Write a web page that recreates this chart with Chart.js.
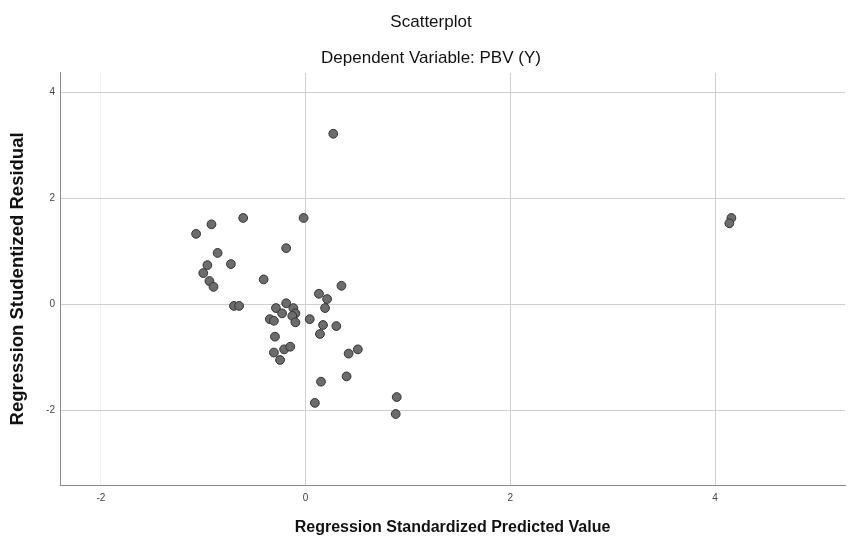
<!DOCTYPE html>
<html>
<head>
<meta charset="utf-8">
<script src="https://cdn.jsdelivr.net/npm/chart.js@4.4.1/dist/chart.umd.min.js"></script>
<style>
  html, body { margin: 0; padding: 0; background: #ffffff; }
  #wrap { width: 852px; height: 537px; }
</style>
</head>
<body>
<div id="wrap"><canvas id="c" width="852" height="537"></canvas></div>
<script>
// Regression Standardized Predicted Value (x) and Studentized Residual (y)
const predicted = [
  -1.07, -0.92, -0.61, -0.02, -0.19, -0.86, -0.73, -0.96, -1.00, -0.94,
  -0.90, -0.41, 0.35, 0.13, 0.21, 0.19, -0.70, -0.65, -0.19, -0.29,
  -0.23, -0.12, -0.10, -0.13, -0.10, -0.35, -0.31, 0.04, 0.17, 0.30,
  0.14, -0.30, -0.21, -0.15, -0.31, -0.25, 0.42, 0.51, 0.40, 0.15,
  0.09, 0.89, 0.88, 0.27, 4.16, 4.14
];
const residual = [
  1.33, 1.51, 1.63, 1.63, 1.06, 0.97, 0.76, 0.74, 0.59, 0.44,
  0.33, 0.47, 0.35, 0.20, 0.10, -0.07, -0.03, -0.03, 0.02, -0.07,
  -0.17, -0.07, -0.17, -0.22, -0.34, -0.28, -0.31, -0.28, -0.39, -0.41,
  -0.56, -0.61, -0.85, -0.80, -0.91, -1.05, -0.93, -0.85, -1.36, -1.46,
  -1.86, -1.75, -2.07, 3.22, 1.63, 1.53
];
const xTicks = [-2, 0, 2, 4];
const yTicks = [-2, 0, 2, 4];
const xRange = [-2.40, 5.27];
const yRange = [-3.41, 4.37];

const points = predicted.map((x, i) => ({ x: x, y: residual[i] }));

const FONT = "'Liberation Sans', Arial, sans-serif";

new Chart(document.getElementById('c'), {
  type: 'scatter',
  data: {
    datasets: [{
      data: points,
      backgroundColor: '#6c6c6c',
      borderColor: '#333333',
      borderWidth: 1,
      pointRadius: 4.4,
      pointHoverRadius: 4.4
    }]
  },
  options: {
    responsive: false,
    animation: false,
    devicePixelRatio: 1,
    layout: { padding: { left: 17, right: 7, top: 0, bottom: 0 } },
    plugins: {
      legend: { display: false },
      tooltip: { enabled: false },
      title: {
        display: true,
        text: 'Scatterplot',
        color: '#111111',
        font: { family: FONT, size: 17, weight: 'normal' },
        padding: { top: 12, bottom: 16 }
      },
      subtitle: {
        display: true,
        text: 'Dependent Variable: PBV (Y)',
        color: '#111111',
        font: { family: FONT, size: 17, weight: 'normal' },
        padding: { top: 0, bottom: 4 }
      }
    },
    scales: {
      x: {
        type: 'linear',
        min: xRange[0],
        max: xRange[1],
        afterBuildTicks: (s) => { s.ticks = xTicks.map(v => ({ value: v })); },
        afterFit: (s) => { s.height = 52; },
        ticks: {
          color: '#444444',
          font: { family: FONT, size: 10 },
          padding: 7
        },
        grid: {
          color: (ctx) => ctx.tick && ctx.tick.value === -2 ? '#f0f0f0' : '#cfcfcf',
          lineWidth: 1,
          drawTicks: false
        },
        border: { color: '#8a8a8a', width: 1 },
        title: {
          display: true,
          text: 'Regression Standardized Predicted Value',
          color: '#111111',
          font: { family: FONT, size: 16, weight: 'bold' },
          padding: { top: 14, bottom: 0 }
        }
      },
      y: {
        type: 'linear',
        min: yRange[0],
        max: yRange[1],
        afterBuildTicks: (s) => { s.ticks = yTicks.map(v => ({ value: v })); },
        afterFit: (s) => { s.width = 43; },
        ticks: {
          color: '#444444',
          font: { family: FONT, size: 10 },
          padding: 5
        },
        grid: {
          color: '#cfcfcf',
          lineWidth: 1,
          drawTicks: false
        },
        border: { color: '#8a8a8a', width: 1 },
        title: {
          display: true,
          text: 'Regression Studentized Residual',
          color: '#111111',
          font: { family: FONT, size: 18.5, weight: 'bold' },
          padding: { top: -10, bottom: 0 }
        }
      }
    }
  }
});
</script>
</body>
</html>
